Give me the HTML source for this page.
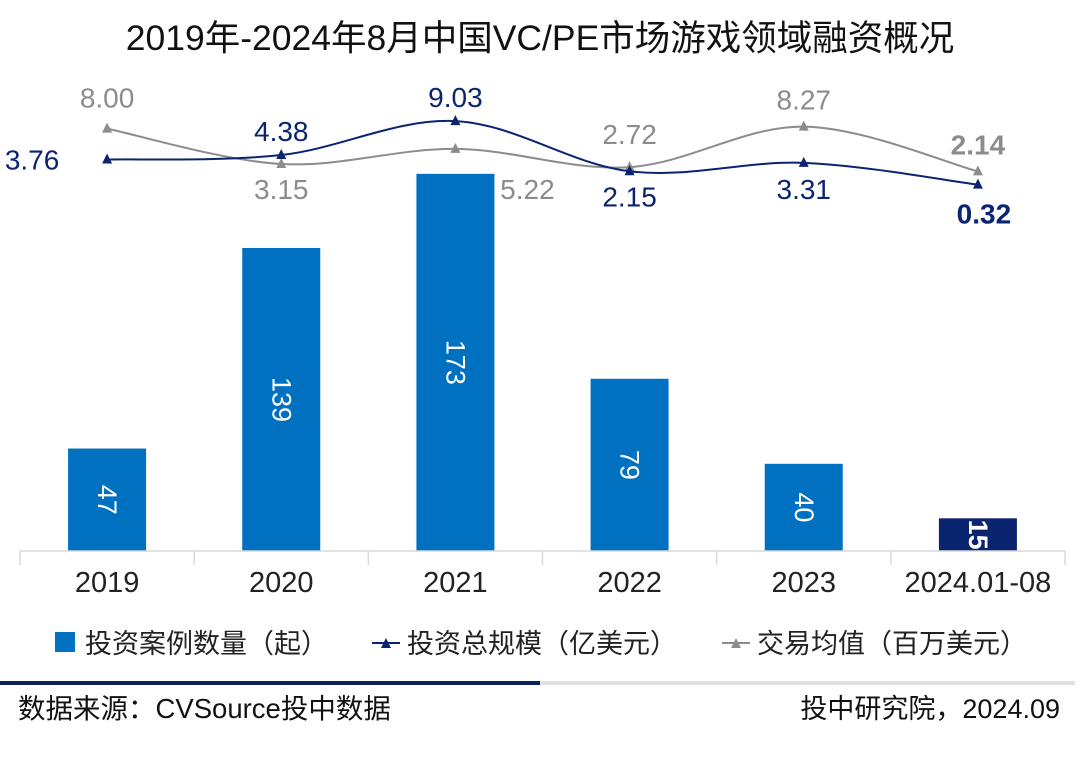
<!DOCTYPE html>
<html><head><meta charset="utf-8"><style>
body{margin:0;background:#fff;width:1080px;height:756px;overflow:hidden;font-family:"Liberation Sans","Noto Sans CJK SC",sans-serif;}
svg text{font-family:"Liberation Sans","Noto Sans CJK SC",sans-serif;}
</style></head><body>
<svg id="c" width="1080" height="756">
<text x="540" y="50" text-anchor="middle" font-size="35.5" fill="#111">2019年-2024年8月中国VC/PE市场游戏领域融资概况</text>
<g id="g"></g>
<line x1="20" y1="551" x2="1065" y2="551" stroke="#d9d9d9" stroke-width="1.5"/>
<g>
<rect x="55" y="632" width="20" height="20" fill="#0070c0"/>
<text x="85" y="653" font-size="27" fill="#222">投资案例数量（起）</text>
<line x1="372" y1="643" x2="400" y2="643" stroke="#0a2470" stroke-width="2"/>
<path d="M381,648 L386,638 L391,648Z" fill="#0a2470"/>
<text x="407" y="653" font-size="27" fill="#222">投资总规模（亿美元）</text>
<line x1="722" y1="643" x2="750" y2="643" stroke="#8c8c8c" stroke-width="2"/>
<path d="M731,648 L736,638 L741,648Z" fill="#8c8c8c"/>
<text x="757" y="653" font-size="27" fill="#222">交易均值（百万美元）</text>
</g>
<rect x="0" y="681" width="540" height="4" fill="#0a1f5c"/>
<rect x="540" y="681" width="535" height="4" fill="#e0e0e0"/>
<text x="18" y="718" font-size="27.5" fill="#111">数据来源：CVSource投中数据</text>
<text x="1060" y="718" font-size="27" fill="#111" text-anchor="end">投中研究院，2024.09</text>
</svg>
<script>
const categories=["2019","2020","2021","2022","2023","2024.01-08"];
const cases=[47,139,173,79,40,15];
const totalScale=[3.76,4.38,9.03,2.15,3.31,0.32];
const avgDeal=[8.00,3.15,5.22,2.72,8.27,2.14];
const NS="http://www.w3.org/2000/svg";
const g=document.getElementById('g');
const x0=20,x1=1065,base=551;
const band=(x1-x0)/categories.length;
const xc=i=>x0+band*(i+0.5);
const yBar=v=>base-v*2.18;
const yLine=v=>187-v*7.3;
function mk(t,a,p){const e=document.createElementNS(NS,t);for(const k in a)e.setAttribute(k,a[k]);(p||g).appendChild(e);return e;}
for(let i=0;i<=categories.length;i++){
 const t=mk('line',{x1:x0+band*i,y1:base,x2:x0+band*i,y2:base+14,stroke:'#d9d9d9','stroke-width':1.5});
 
 
}
categories.forEach((c,i)=>{
 const h=cases[i];const top=yBar(h);
 const r=mk('rect',{x:xc(i)-39,y:top,width:78,height:base-top,fill:i==5?'#0a2470':'#0070c0'});
 
 
 const cy=(top+base)/2;
 const tt=mk('text',{x:xc(i),y:cy,fill:'#fff','font-size':27,'text-anchor':'middle','dominant-baseline':'central','font-weight':i==5?'bold':'normal',transform:`rotate(90 ${xc(i)} ${cy})`});
 tt.textContent=h;
 
 
 const xl=mk('text',{x:xc(i),y:592,'font-size':29,fill:'#222','text-anchor':'middle'});
 xl.textContent=c;
 
 
});
function smooth(pts){let d=`M${pts[0][0]},${pts[0][1]}`;for(let i=0;i<pts.length-1;i++){const p0=pts[i-1]||pts[i],p1=pts[i],p2=pts[i+1],p3=pts[i+2]||p2;const t=0.17;d+=` C${p1[0]+(p2[0]-p0[0])*t},${p1[1]+(p2[1]-p0[1])*t} ${p2[0]-(p3[0]-p1[0])*t},${p2[1]-(p3[1]-p1[1])*t} ${p2[0]},${p2[1]}`;}return d;}
function series(vals,color,name,offs){
 const pts=vals.map((v,i)=>[xc(i),yLine(v)]);
 const p=mk('path',{d:smooth(pts),fill:'none',stroke:color,'stroke-width':2});
 
 
 pts.forEach((q,i)=>{
  const m=mk('path',{d:`M${q[0]-5},${q[1]+4} L${q[0]},${q[1]-6} L${q[0]+5},${q[1]+4}Z`,fill:color});
  
  
  const o=offs[i];
  const t=mk('text',{x:q[0]+o[0],y:q[1]+o[1],'font-size':28,fill:color,'text-anchor':'middle','font-weight':i==5?'bold':'normal'});
  t.textContent=vals[i].toFixed(2);
  
  
 });
}
series(avgDeal,'#8c8c8c','avg-deal',[[0,-21],[0,35],[72,50],[0,-23],[0,-17],[0,-17]]);
series(totalScale,'#0a2470','total-scale',[[-75,10],[0,-14],[0,-14],[0,35],[0,36],[6,39]]);
</script>
</body></html>
